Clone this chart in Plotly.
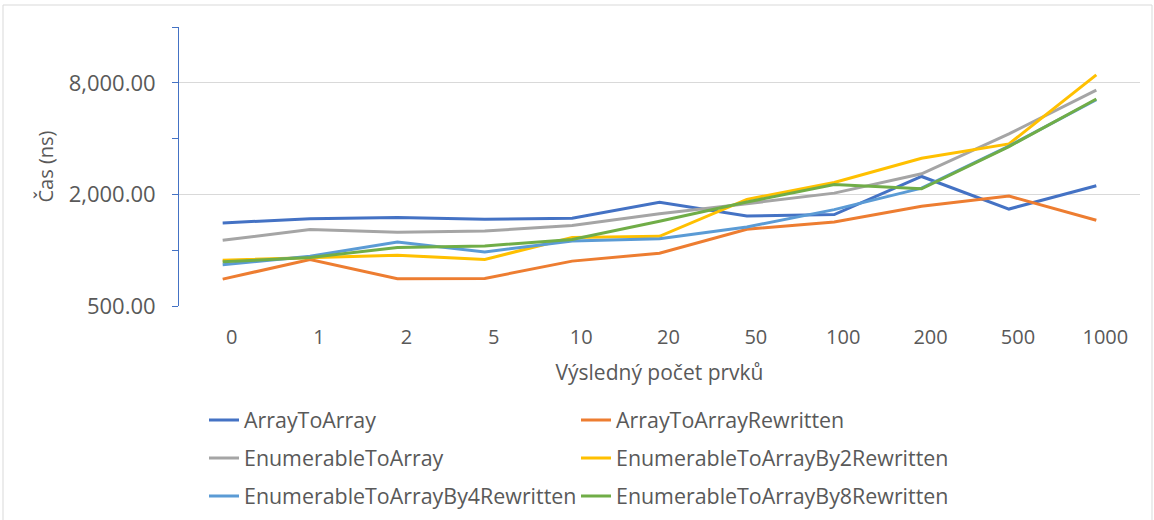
import plotly.graph_objects as go

categories = ["0", "1", "2", "5", "10", "20", "50", "100", "200", "500", "1000"]

array_to_array = [1402, 1480, 1499, 1468, 1486, 1811, 1529, 1556, 2499, 1667, 2228]
array_to_array_rewritten = [698, 891, 701, 704, 873, 963, 1297, 1420, 1724, 1958, 1450]
enumerable_to_array = [1132, 1292, 1249, 1270, 1358, 1571, 1782, 2032, 2584, 4240, 7309]
enumerable_by2 = [884, 909, 940, 891, 1170, 1189, 1880, 2320, 3134, 3746, 8834]
enumerable_by4 = [834, 928, 1108, 979, 1122, 1153, 1334, 1655, 2162, 3646, 6482]
enumerable_by8 = [865, 914, 1034, 1055, 1142, 1432, 1818, 2264, 2146, 3623, 6538]

series = [
    ("ArrayToArray", array_to_array, "#4472C4", "legend"),
    ("ArrayToArrayRewritten", array_to_array_rewritten, "#ED7D31", "legend"),
    ("EnumerableToArray", enumerable_to_array, "#A5A5A5", "legend2"),
    ("EnumerableToArrayBy2Rewritten", enumerable_by2, "#FFC000", "legend2"),
    ("EnumerableToArrayBy4Rewritten", enumerable_by4, "#5B9BD5", "legend3"),
    ("EnumerableToArrayBy8Rewritten", enumerable_by8, "#70AD47", "legend3"),
]

major_ticks = [500, 2000, 8000]
major_labels = ["500.00", "2,000.00", "8,000.00"]
minor_ticks = [1000, 4000, 16000]

FONT = "Open Sans"
TXT = "#595959"
W, H = 1154, 520

fig = go.Figure()
for name, vals, color, lg in series:
    fig.add_trace(go.Scatter(
        x=categories, y=vals, name=name, mode="lines",
        line=dict(color=color, width=3), legend=lg,
    ))

legend_common = dict(
    orientation="h", xanchor="left", yanchor="middle",
    xref="container", yref="container",
    font=dict(family=FONT, size=21.4, color=TXT),
    entrywidth=327, entrywidthmode="pixels",
    bgcolor="rgba(0,0,0,0)", itemwidth=30,
)
lx = 204 / W
fig.update_layout(
    width=W, height=H,
    margin=dict(l=179, r=14, t=27, b=214, autoexpand=False),
    paper_bgcolor="white", plot_bgcolor="white",
    font=dict(family=FONT, color=TXT),
    legend=dict(x=lx, y=1 - 420 / H, **legend_common),
    legend2=dict(x=lx, y=1 - 458 / H, **legend_common),
    legend3=dict(x=lx, y=1 - 496 / H, **legend_common),
    xaxis=dict(
        type="category", range=[-0.5, 10.5], automargin=False,
        showgrid=False, showline=False, ticks="",
        tickfont=dict(family=FONT, size=20, color=TXT),
        ticklabelstandoff=17, ticklabelshift=9,
        title=dict(text="Výsledný počet prvků", font=dict(family=FONT, size=21, color=TXT), standoff=16),
    ),
    yaxis=dict(
        type="log", range=[2.69897, 4.2041], automargin=False,
        tickvals=major_ticks, ticktext=major_labels,
        showgrid=True, gridcolor="#D9D9D9", gridwidth=1,
        showline=True, linecolor="#4472C4", linewidth=1,
        ticks="outside", ticklen=6, tickcolor="#4472C4",
        tickfont=dict(family=FONT, size=22, color=TXT),
        ticklabelstandoff=12,
        minor=dict(tickvals=minor_ticks, ticks="outside", ticklen=6, tickcolor="#4472C4", showgrid=False),
        title=dict(text="Čas (ns)", font=dict(family=FONT, size=20, color=TXT), standoff=9),
        zeroline=False,
    ),
    shapes=[dict(
        type="rect", xref="paper", yref="paper",
        x0=(3 - 179) / 961, x1=(1152 - 179) / 961,
        y0=(306 - 530) / 279, y1=(306 - 5) / 279,
        line=dict(color="#D9D9D9", width=1), fillcolor="rgba(0,0,0,0)", layer="below",
    )],
)

fig.write_html(
    "out.html",
    config={"displayModeBar": False},
    post_script="document.body.style.margin='0';",
)
